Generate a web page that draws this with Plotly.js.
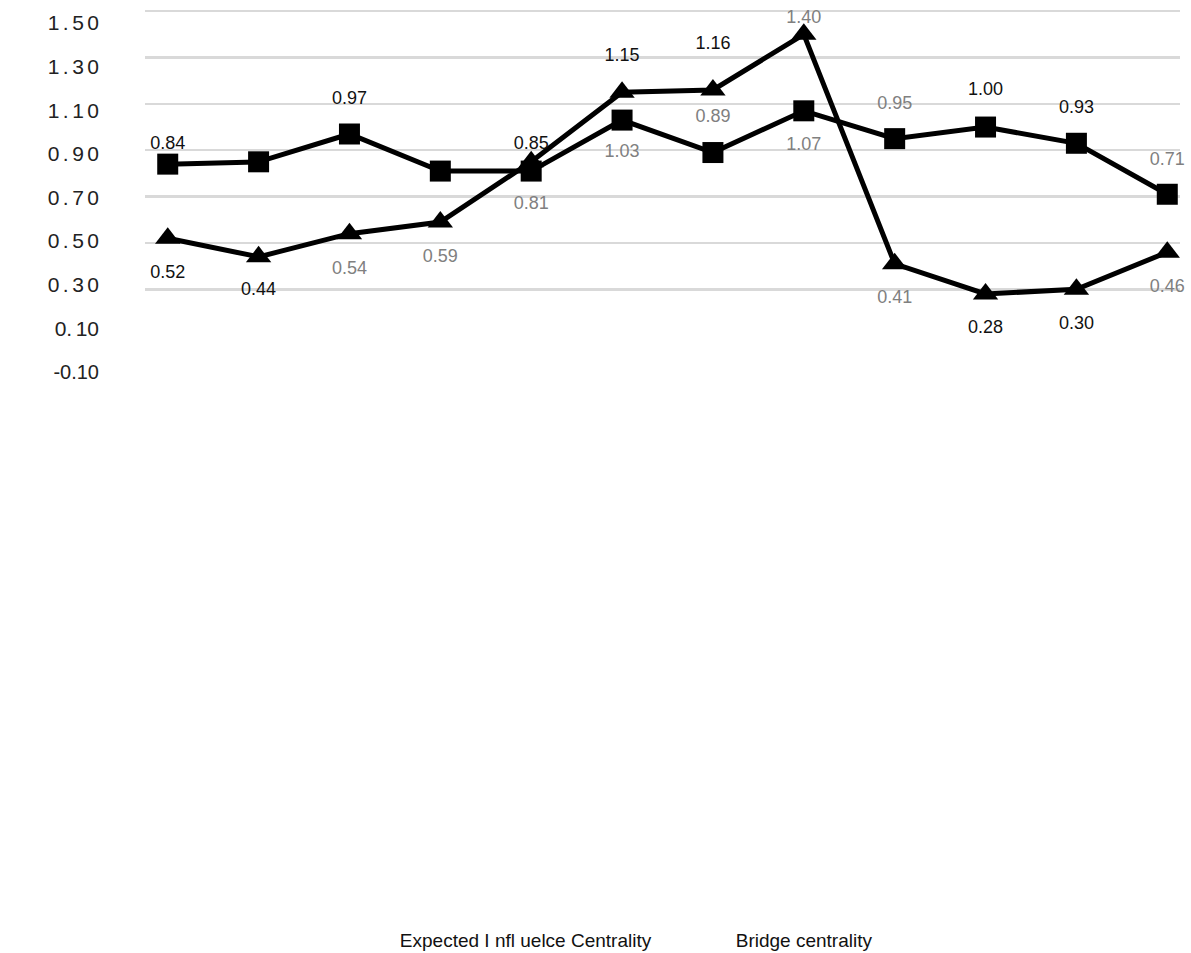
<!DOCTYPE html>
<html>
<head>
<meta charset="utf-8">
<script src="https://cdn.plot.ly/plotly-3.0.1.min.js"></script>
<style>html,body{margin:0;padding:0;background:#fff;}#chart{width:1191px;height:953px;}</style>
</head>
<body>
<div id="chart"></div>
<script>
// Data
var categories = [1, 2, 3, 4, 5, 6, 7, 8, 9, 10, 11, 12];
var squareSeries = [0.84, 0.85, 0.97, 0.81, 0.81, 1.03, 0.89, 1.07, 0.95, 1.00, 0.93, 0.71];
var triangleSeries = [0.52, 0.44, 0.54, 0.59, 0.85, 1.15, 1.16, 1.40, 0.41, 0.28, 0.30, 0.46];
var squareLabels = ["0.84", "", "0.97", "", "0.81", "1.03", "0.89", "1.07", "0.95", "1.00", "0.93", "0.71"];
var triangleLabels = ["0.52", "0.44", "0.54", "0.59", "0.85", "1.15", "1.16", "1.40", "0.41", "0.28", "0.30", "0.46"];
var squareLabelPos = ["top center","top center","top center","top center","bottom center","bottom center","top center","bottom center","top center","top center","top center","top center"];
var triangleLabelPos = ["bottom center","bottom center","bottom center","bottom center","top center","top center","top center","top center","bottom center","bottom center","bottom center","bottom center"];
var squareLabelColors = ["#111","#111","#111","#111","#808080","#808080","#808080","#808080","#808080","#111","#111","#808080"];
var triangleLabelColors = ["#111","#111","#808080","#808080","#111","#111","#111","#808080","#808080","#111","#111","#808080"];
var gridVals = [0.30, 0.50, 0.70, 0.90, 1.10, 1.30, 1.50];
var tickVals = [-0.10, 0.10, 0.30, 0.50, 0.70, 0.90, 1.10, 1.30, 1.50];
var tickText = ["<span style='font-size:20px'>-0.10</span>", "0.\u200610",
  "0\u2006.\u20063\u20060", "0\u2006.\u20065\u20060", "0\u2006.\u20067\u20060", "0\u2006.\u20069\u20060",
  "1\u2006.\u20061\u20060", "1\u2006.\u20063\u20060", "1\u2006.\u20065\u20060"];
var legendNames = ["Expected I nfl uelce Centrality", "Bridge centrality"];

var labelFont = 'Liberation Sans, Arial, sans-serif';
// label gap sizes (invisible marker sizes that set label offsets)
var squareGap = [16, 38, 40, 38, 38, 36, 40, 40, 38, 42, 40, 38];
var triangleGap = [40, 38, 42, 40, 12, 42, 56, 10, 40, 40, 40, 40];

var traces = [
  {
    x: categories, y: squareSeries, type: 'scatter', mode: 'lines+markers',
    line: {color: '#000', width: 5},
    marker: {symbol: 'square', size: 21, color: '#000'},
    showlegend: false, cliponaxis: false
  },
  {
    x: categories, y: triangleSeries, type: 'scatter', mode: 'lines+markers',
    line: {color: '#000', width: 5},
    marker: {symbol: 'triangle-up', size: 22, color: '#000'},
    showlegend: false, cliponaxis: false
  },
  {
    x: categories, y: squareSeries, type: 'scatter', mode: 'markers+text',
    marker: {size: squareGap, opacity: 0, color: '#fff'},
    text: squareLabels, textposition: squareLabelPos,
    textfont: {family: labelFont, size: 18, color: squareLabelColors},
    showlegend: false, cliponaxis: false
  },
  {
    x: categories, y: triangleSeries, type: 'scatter', mode: 'markers+text',
    marker: {size: triangleGap, opacity: 0, color: '#fff'},
    text: triangleLabels, textposition: triangleLabelPos,
    textfont: {family: labelFont, size: 18, color: triangleLabelColors},
    showlegend: false, cliponaxis: false
  },
  {
    x: [null], y: [null], type: 'scatter', mode: 'lines', name: legendNames[0],
    line: {color: 'rgba(0,0,0,0)', width: 0}, showlegend: true
  },
  {
    x: [null], y: [null], type: 'scatter', mode: 'lines', name: legendNames[1],
    line: {color: 'rgba(0,0,0,0)', width: 0}, showlegend: true
  },
  {x: [null], y: [null], yaxis: 'y2', type: 'scatter', mode: 'lines', showlegend: false, hoverinfo: 'skip'}
];

var layout = {
  width: 1191, height: 953,
  margin: {l: 145, r: 11, t: 10, b: 571, autoexpand: false},
  paper_bgcolor: '#fff', plot_bgcolor: '#fff',
  font: {family: labelFont, color: '#222'},
  xaxis: {
    range: [0.75, 12.14], showgrid: false, zeroline: false,
    showticklabels: false, showline: false, ticks: ''
  },
  yaxis: {
    range: [-0.10, 1.505], tickvals: gridVals, showticklabels: false,
    showgrid: true, gridcolor: '#d9d9d9', gridwidth: 2.5, zeroline: false, showline: false, ticks: ''
  },
  yaxis2: {
    range: [-0.146, 1.56], overlaying: 'y', side: 'left',
    tickvals: tickVals, ticktext: tickText, showgrid: false, zeroline: false,
    showline: false, ticks: '', ticklabelstandoff: 45,
    tickfont: {family: labelFont, size: 21, color: '#222'}
  },
  legend: {
    orientation: 'h', x: 0.439, xanchor: 'center', y: -1.5, yanchor: 'middle',
    font: {family: 'Liberation Sans Narrow, Arial Narrow, Liberation Sans, sans-serif', size: 19, color: '#111'},
    itemwidth: 69, tracegroupgap: 0
  },
  showlegend: true
};

Plotly.newPlot('chart', traces, layout, {displayModeBar: false, staticPlot: true});
</script>
</body>
</html>
